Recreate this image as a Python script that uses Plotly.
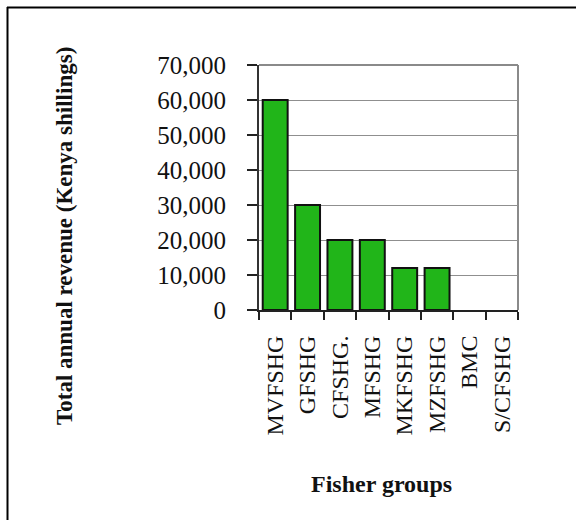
import plotly.graph_objects as go

# Fisher group revenues (Kenya shillings)
groups = ["MVFSHG", "GFSHG", "CFSHG.", "MFSHG", "MKFSHG", "MZFSHG", "BMC", "S/CFSHG"]
revenue = [60000, 30000, 20000, 20000, 12000, 12000, 0, 0]
y_ticks = [0, 10000, 20000, 30000, 40000, 50000, 60000, 70000]
y_tick_labels = ["0", "10,000", "20,000", "30,000", "40,000", "50,000", "60,000", "70,000"]

W, H = 576, 520
L, R, T, B = 259, 58, 65, 210
pw, ph = W - L - R, H - T - B


def px(x):
    return (x - L) / pw


def py(y):
    return (H - B - y) / ph


serif = "Liberation Serif, Times New Roman, serif"

# no outline on empty bars
outline_w = [2 if v > 0 else 0 for v in revenue]

fig = go.Figure()
fig.add_trace(go.Bar(
    x=groups, y=revenue,
    marker=dict(color="#21b519", line=dict(color="#111111", width=outline_w)),
    width=0.77,
))

fig.update_layout(
    width=W, height=H,
    margin=dict(l=L, r=R, t=T, b=B),
    paper_bgcolor="white", plot_bgcolor="white",
    showlegend=False,
    bargap=0.23,
    xaxis=dict(
        type="category",
        showline=True, linecolor="#222222", linewidth=2,
        ticks="outside", tickson="boundaries", ticklen=8, tickcolor="#222222", tickwidth=1.5,
        tickangle=-90,
        tickfont=dict(family=serif, size=24, color="#111111"),
        ticklabelstandoff=14,
        showgrid=False,
    ),
    yaxis=dict(
        range=[0, 70000],
        tickvals=y_ticks, ticktext=y_tick_labels,
        showline=True, linecolor="#333333", linewidth=2,
        ticks="outside", ticklen=10, tickcolor="#222222", tickwidth=1.5,
        tickfont=dict(family=serif, size=25, color="#111111"),
        ticklabelstandoff=16,
        showgrid=True, gridcolor="#8f8f8f", gridwidth=1.2,
        zeroline=False,
    ),
    shapes=[
        # gray frame on the top and right of the plot area
        dict(type="line", xref="paper", yref="paper", x0=0, x1=1, y0=1, y1=1,
             line=dict(color="#8a8a8a", width=2), layer="below"),
        dict(type="line", xref="paper", yref="paper", x0=1, x1=1, y0=0, y1=1,
             line=dict(color="#8a8a8a", width=2), layer="below"),
        # outer border (top and left edges)
        dict(type="line", xref="paper", yref="paper", x0=px(7), x1=px(W + 5), y0=py(7.5), y1=py(7.5),
             line=dict(color="#000000", width=2)),
        dict(type="line", xref="paper", yref="paper", x0=px(7.5), x1=px(7.5), y0=py(7), y1=py(H + 5),
             line=dict(color="#000000", width=2)),
    ],
    annotations=[
        dict(text="<b>Total annual revenue (Kenya shillings)</b>", textangle=-90,
             xref="paper", yref="paper", x=px(65), y=py(236),
             xanchor="center", yanchor="middle", showarrow=False,
             font=dict(family=serif, size=23, color="#111111")),
        dict(text="<b>Fisher groups</b>",
             xref="paper", yref="paper", x=px(381), y=py(484),
             xanchor="center", yanchor="middle", showarrow=False,
             font=dict(family=serif, size=24, color="#111111")),
    ],
)

fig.write_html("out.html")
